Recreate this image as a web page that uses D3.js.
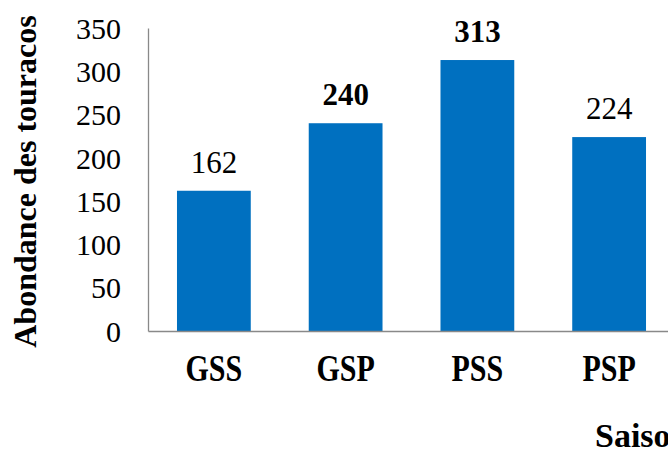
<!DOCTYPE html>
<html>
<head>
<meta charset="utf-8">
<script src="https://cdn.jsdelivr.net/npm/d3@7"></script>
<style>
  html, body { margin: 0; padding: 0; background: #fff; overflow: hidden; }
  svg { display: block; }
</style>
</head>
<body>
<script>
// Abondance des touracos par saison
const categories = ["GSS", "GSP", "PSS", "PSP"];
const values = [162, 240, 313, 224];
const boldLabels = [false, true, true, false];
const yTicks = [0, 50, 100, 150, 200, 250, 300, 350];

const width = 668, height = 450;
const plotLeft = 148, plotBottom = 331, plotTop = 28, plotRight = 675;
const serif = "'Liberation Serif', 'Times New Roman', 'DejaVu Serif', serif";
const catStretch = 1.25;

const svg = d3.select("body").append("svg")
  .attr("width", width).attr("height", height);

const x = d3.scaleBand()
  .domain(categories)
  .range([plotLeft, plotRight])
  .paddingInner(0.44)
  .paddingOuter(0.22);

const y = d3.scaleLinear().domain([0, 350]).range([plotBottom, plotTop]);

// Bars
svg.selectAll("rect.bar")
  .data(categories)
  .join("rect")
  .attr("class", "bar")
  .attr("x", d => x(d))
  .attr("width", x.bandwidth())
  .attr("y", (d, i) => y(values[i]))
  .attr("height", (d, i) => y(0) - y(values[i]))
  .attr("fill", "#0070C0");

// Value labels
svg.selectAll("text.val")
  .data(categories)
  .join("text")
  .attr("class", "val")
  .attr("x", d => x(d) + x.bandwidth() / 2)
  .attr("y", (d, i) => y(values[i]) - 18)
  .attr("text-anchor", "middle")
  .style("font-family", serif)
  .style("font-size", "31px")
  .style("font-weight", (d, i) => boldLabels[i] ? "bold" : "normal")
  .attr("fill", "#000")
  .text((d, i) => values[i]);

// Y axis
const yAxis = d3.axisLeft(y).tickValues(yTicks).tickSize(0).tickPadding(27);
const gy = svg.append("g").attr("transform", `translate(${plotLeft},0)`).call(yAxis);
gy.select(".domain").attr("stroke", "#898989").attr("stroke-width", 1.3);
gy.selectAll("text")
  .style("font-family", serif)
  .style("font-size", "30px")
  .attr("fill", "#000")
  .attr("dy", "0.34em");

// X axis
const xAxis = d3.axisBottom(x).tickSize(0).tickPadding(0);
const gx = svg.append("g").attr("transform", `translate(0,${plotBottom})`).call(xAxis);
gx.select(".domain").attr("stroke", "#898989").attr("stroke-width", 1.3);
gx.selectAll("text")
  .style("font-family", serif)
  .style("font-size", "30px")
  .style("font-weight", "bold")
  .attr("fill", "#000")
  .attr("y", 50 / catStretch)
  .attr("dy", 0)
  .attr("transform", `scale(1,${catStretch})`);

// Axis titles
svg.append("text")
  .attr("transform", `translate(36,${(13 + 350) / 2}) rotate(-90)`)
  .attr("text-anchor", "middle")
  .style("font-family", serif)
  .style("font-size", "32px")
  .style("font-weight", "bold")
  .attr("fill", "#000")
  .text("Abondance des touracos");

svg.append("text")
  .attr("x", 595)
  .attr("y", 447)
  .style("font-family", serif)
  .style("font-size", "34px")
  .style("font-weight", "bold")
  .attr("fill", "#000")
  .text("Saison");
</script>
</body>
</html>
